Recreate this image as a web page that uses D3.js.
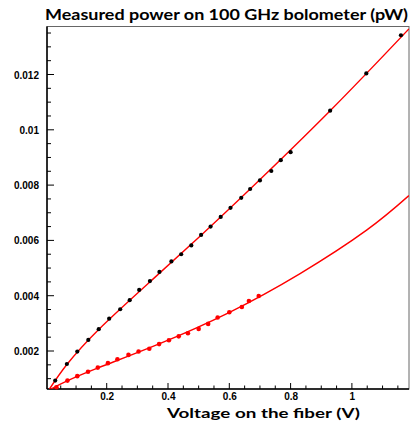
<!DOCTYPE html>
<html>
<head>
<meta charset="utf-8">
<script src="https://cdn.jsdelivr.net/npm/d3@7"></script>
<style>
  body { margin: 0; background: #fff; }
  svg { display: block; }
</style>
</head>
<body>
<div id="chart"></div>
<script>
// measured points, upper set (black markers)
const blackVolt = [0.032, 0.070, 0.104, 0.140, 0.174, 0.208, 0.244, 0.275, 0.306, 0.341, 0.372, 0.411, 0.443,
    0.476, 0.508, 0.539, 0.572, 0.604, 0.639, 0.668, 0.700, 0.737, 0.768, 0.800, 0.929, 1.047, 1.160];
const blackPower = [0.00093, 0.00153, 0.00198, 0.00240, 0.00279, 0.00317, 0.00351, 0.00384, 0.00421, 0.00453,
    0.00486, 0.00524, 0.00550, 0.00582, 0.00620, 0.00650, 0.00685, 0.00718, 0.00754, 0.00786, 0.00817,
    0.00851, 0.00890, 0.00919, 0.01069, 0.01204, 0.01342];

// measured points, lower set (red markers)
const redVolt = [0.036, 0.072, 0.104, 0.139, 0.171, 0.204, 0.235, 0.271, 0.304, 0.339, 0.371, 0.403, 0.435,
    0.465, 0.500, 0.531, 0.562, 0.600, 0.641, 0.664, 0.696];
const redPower = [0.00069, 0.00093, 0.00109, 0.00125, 0.00140, 0.00156, 0.00170, 0.00186, 0.00198, 0.00208,
    0.00225, 0.00239, 0.00253, 0.00264, 0.00280, 0.00298, 0.00321, 0.00340, 0.00359, 0.00381, 0.00399];

// fitted curves
const fitUpperVolt = [0.0134, 0.070, 0.174, 0.341, 0.508, 0.668, 0.929, 1.186];
const fitUpperPower = [0.000626, 0.00151, 0.00278, 0.00450, 0.00619, 0.00786, 0.01069, 0.01365];
const fitLowerVolt = [0.018, 0.071, 0.172, 0.367, 0.599, 0.831, 1.048, 1.186];
const fitLowerPower = [0.000626, 0.00092, 0.00139, 0.00224, 0.00339, 0.00480, 0.00637, 0.00762];

const xMajorTicks = [0.2, 0.4, 0.6, 0.8, 1];
const yMajorTicks = [0.002, 0.004, 0.006, 0.008, 0.01, 0.012];

const titleText = "Measured power on 100 GHz bolometer (pW)";
const xTitleText = "Voltage on the fiber (V)";

const W = 412, H = 423;
const frame = {left: 47, right: 409, top: 26.5, bottom: 389};

const svg = d3.select("#chart").append("svg")
    .attr("width", W)
    .attr("height", H);

const x = d3.scaleLinear()
    .domain([0.0052, 1.1863])
    .range([frame.left, frame.right]);
const y = d3.scaleLinear()
    .domain([0.000626, 0.013736])
    .range([frame.bottom, frame.top]);

// clip for the curves
svg.append("clipPath").attr("id", "plotClip")
    .append("rect")
    .attr("x", frame.left).attr("y", frame.top)
    .attr("width", frame.right - frame.left)
    .attr("height", frame.bottom - frame.top);

// frame (top/right thin grey)
svg.append("rect")
    .attr("x", frame.left).attr("y", frame.top)
    .attr("width", frame.right - frame.left)
    .attr("height", frame.bottom - frame.top)
    .attr("fill", "none")
    .attr("stroke", "#666")
    .attr("stroke-width", 1);

// minor ticks
const xMinor = d3.range(0.05, 1.19, 0.05).filter(v => x(v) < frame.right - 1);
const yMinor = d3.range(0.001, 0.01374, 0.0005);

const xAxis = d3.axisBottom(x).tickValues(xMajorTicks).tickSize(0).tickFormat(d3.format("~g"));
const yAxis = d3.axisLeft(y).tickValues(yMajorTicks).tickSize(0).tickFormat(d3.format("~g"));

const gx = svg.append("g").attr("transform", `translate(0,${frame.bottom})`).call(xAxis);
const gy = svg.append("g").attr("transform", `translate(${frame.left},0)`).call(yAxis);
[gx, gy].forEach(g => {
    g.select(".domain").remove();
    g.selectAll("text")
        .attr("font-family", "Liberation Sans, Arial, sans-serif")
        .attr("font-weight", "bold")
        .attr("font-size", 10)
        .attr("fill", "#000");
});
gx.selectAll("text").attr("y", 4).attr("dy", "0.71em");
gy.selectAll("text").attr("x", -8).attr("dy", "0.35em");

// inward tick marks
const ticks = svg.append("g").attr("stroke", "#000").attr("stroke-width", 1);
ticks.selectAll(".xt")
    .data(xMinor)
    .join("line")
    .attr("x1", d => x(d)).attr("x2", d => x(d))
    .attr("y1", frame.bottom)
    .attr("y2", d => frame.bottom - (xMajorTicks.some(m => Math.abs(m - d) < 1e-6) ? 6 : 3.5));
ticks.selectAll(".yt")
    .data(yMinor)
    .join("line")
    .attr("y1", d => y(d)).attr("y2", d => y(d))
    .attr("x1", frame.left)
    .attr("x2", d => frame.left + (yMajorTicks.some(m => Math.abs(m - d) < 1e-7) ? 7 : 4));

// axis lines
svg.append("line")
    .attr("x1", frame.left).attr("x2", frame.right)
    .attr("y1", frame.bottom).attr("y2", frame.bottom)
    .attr("stroke", "#000").attr("stroke-width", 1.5);
svg.append("line")
    .attr("x1", frame.left).attr("x2", frame.left)
    .attr("y1", frame.top).attr("y2", frame.bottom)
    .attr("stroke", "#000").attr("stroke-width", 1.5);

// fit curves
const line = d3.line()
    .x(d => x(d[0]))
    .y(d => y(d[1]))
    .curve(d3.curveNatural);
const curves = svg.append("g").attr("clip-path", "url(#plotClip)");
[[fitUpperVolt, fitUpperPower], [fitLowerVolt, fitLowerPower]].forEach(([vs, ps]) => {
    curves.append("path")
        .datum(vs.map((v, i) => [v, ps[i]]))
        .attr("d", line)
        .attr("fill", "none")
        .attr("stroke", "#ff0000")
        .attr("stroke-width", 1.4);
});

// markers
svg.append("g").selectAll("circle")
    .data(redVolt.map((v, i) => [v, redPower[i]]))
    .join("circle")
    .attr("cx", d => x(d[0]))
    .attr("cy", d => y(d[1]))
    .attr("r", 2.3)
    .attr("fill", "#ff0000");
svg.append("g").selectAll("circle")
    .data(blackVolt.map((v, i) => [v, blackPower[i]]))
    .join("circle")
    .attr("cx", d => x(d[0]))
    .attr("cy", d => y(d[1]))
    .attr("r", 2.1)
    .attr("fill", "#000");

// titles
svg.append("text")
    .attr("x", 45).attr("y", 20)
    .attr("font-family", "Lato, DejaVu Sans, sans-serif")
    .attr("font-weight", "bold")
    .attr("font-size", 16)
    .attr("textLength", 363)
    .attr("lengthAdjust", "spacingAndGlyphs")
    .text(titleText);
svg.append("text")
    .attr("x", 360).attr("y", 418)
    .attr("text-anchor", "end")
    .attr("font-family", "Lato, DejaVu Sans, sans-serif")
    .attr("font-weight", "bold")
    .attr("font-size", 14)
    .attr("textLength", 193)
    .attr("lengthAdjust", "spacingAndGlyphs")
    .text(xTitleText);
</script>
</body>
</html>
